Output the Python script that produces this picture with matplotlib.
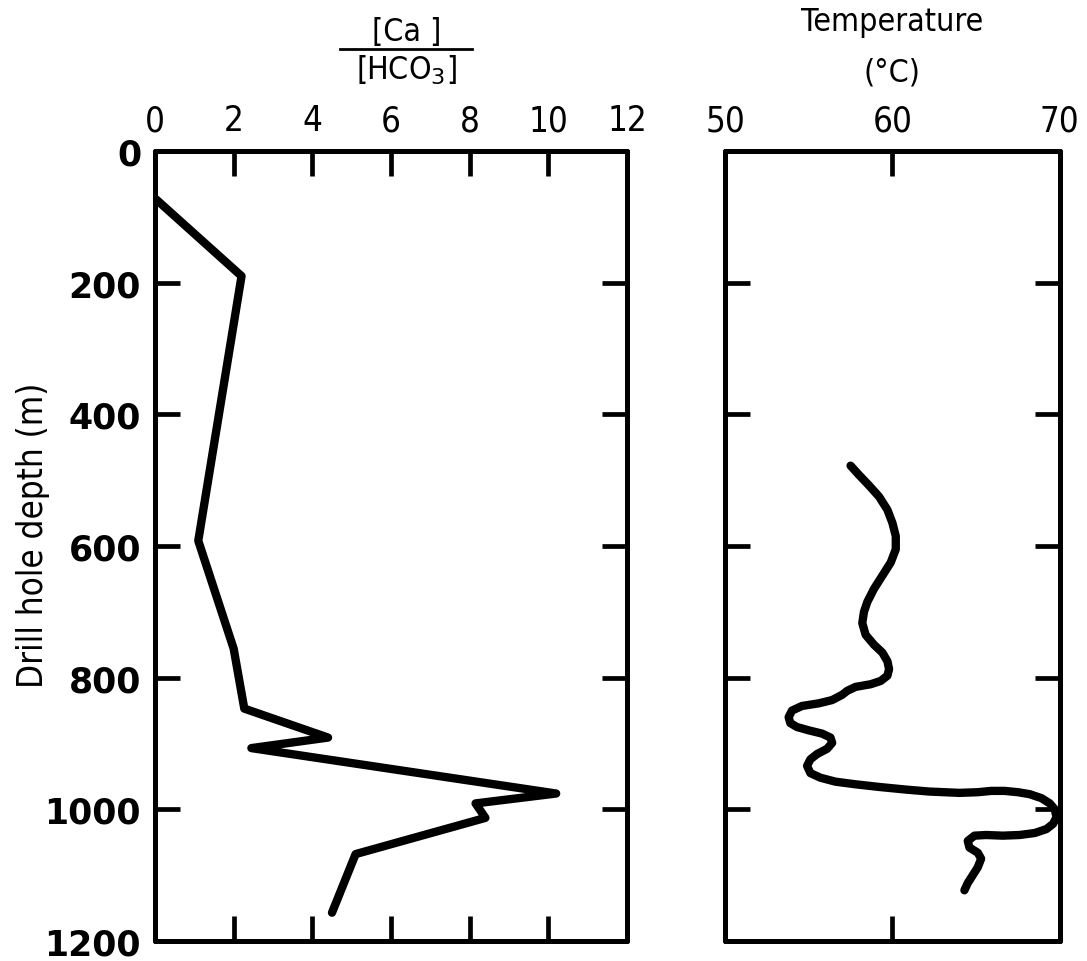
import matplotlib
matplotlib.use("Agg")
import matplotlib.pyplot as plt
from matplotlib import font_manager

# Ca/HCO3 ratio versus depth (left panel)
ratio = [0.0, 2.2, 1.1, 2.0, 2.27, 4.4, 2.45, 10.2, 8.15, 8.4, 5.1, 4.5]
ratio_depth = [72, 190, 592, 756, 847, 891, 907, 976, 991, 1013, 1068, 1157]

# temperature log (right panel)
temp = [57.5, 58.0, 58.6, 59.2, 59.7, 60.0, 60.2, 60.2, 59.9, 59.4, 58.9,
        58.5, 58.3, 58.2, 58.4, 58.9, 59.4, 59.7, 59.8, 59.7, 59.3, 58.7,
        57.8, 57.3, 57.0, 56.4, 55.6, 54.6, 54.0, 53.8, 53.9, 54.3, 55.0,
        55.8, 56.3, 56.4, 56.1, 55.5, 55.1, 54.9, 55.1, 55.7, 56.6, 57.8,
        59.2, 60.8, 62.2, 64.0, 65.1, 65.9, 66.7, 67.5, 68.2, 68.9, 69.4,
        69.7, 69.8, 69.6, 69.2, 68.5, 67.6, 66.6, 65.6, 64.9, 64.5, 64.6,
        65.1, 65.3, 65.1, 64.8, 64.5, 64.3]
temp_depth = [478, 492, 508, 525, 545, 565, 585, 605, 625, 645, 665,
              685, 700, 717, 735, 750, 762, 775, 787, 797, 805, 810,
              814, 820, 826, 834, 839, 843, 850, 860, 869, 875, 880,
              885, 891, 899, 908, 916, 924, 934, 945, 952, 958, 962,
              966, 970, 973, 975, 974, 972, 972, 974, 977, 983, 991,
              1000, 1012, 1022, 1030, 1036, 1039, 1040, 1039, 1040, 1048, 1058,
              1066, 1075, 1088, 1100, 1112, 1123]

depth_ticks = [0, 200, 400, 600, 800, 1000, 1200]
ratio_ticks = [0, 2, 4, 6, 8, 10, 12]
temp_ticks = [50, 60, 70]

narrow = font_manager.FontProperties(family='DejaVu Sans', stretch='condensed',
                                     size=23)

fig = plt.figure(figsize=(10.87, 9.62), dpi=100)
ax1 = fig.add_axes([0.1426, 0.0208, 0.4342, 0.8212])
ax2 = fig.add_axes([0.667, 0.0208, 0.308, 0.8212])

for ax in (ax1, ax2):
    ax.set_ylim(1200, 0)
    for s in ax.spines.values():
        s.set_linewidth(3.6)
        s.set_capstyle('round')
    ax.tick_params(which='both', direction='in', length=18, width=3.4,
                   top=True, bottom=True, left=True, right=True,
                   labeltop=True, labelbottom=False, pad=10)
    ax.set_yticks(depth_ticks)

ax1.plot(ratio, ratio_depth, color='black', lw=6, solid_joinstyle='round',
         solid_capstyle='round')
ax1.set_xlim(0, 12)
ax1.set_xticks(ratio_ticks)
ax1.set_xticklabels([str(t) for t in ratio_ticks], fontproperties=narrow,
                    fontsize=25)
ax1.set_yticklabels([str(t) for t in depth_ticks], family='DejaVu Sans',
                    fontsize=25, weight='bold')
ax1.set_ylabel('Drill hole depth (m)', fontproperties=narrow, fontsize=25)
ax1.yaxis.set_label_coords(-0.222, 0.515)

ax2.plot(temp, temp_depth, color='black', lw=6, solid_joinstyle='round',
         solid_capstyle='round')
ax2.set_xlim(50, 70)
ax2.set_xticks(temp_ticks)
ax2.set_xticklabels([str(t) for t in temp_ticks], fontproperties=narrow,
                    fontsize=25)
ax2.tick_params(labelleft=False)

# fraction label above the left panel
fig.text(0.374, 1 - 33 / 962, '[Ca ]', fontproperties=narrow,
         ha='center', va='center')
fig.text(0.374, 1 - 70 / 962, r'[HCO$_3$]', fontproperties=narrow,
         ha='center', va='center')
fig.add_artist(plt.Line2D([340 / 1087, 472 / 1087], [1 - 50 / 962, 1 - 50 / 962],
                          color='black', lw=2))

fig.text(0.821, 1 - 23 / 962, 'Temperature', fontproperties=narrow,
         ha='center', va='center')
fig.text(0.821, 1 - 73 / 962, '(°C)', fontproperties=narrow,
         ha='center', va='center')

fig.savefig('out.png', dpi=100)
